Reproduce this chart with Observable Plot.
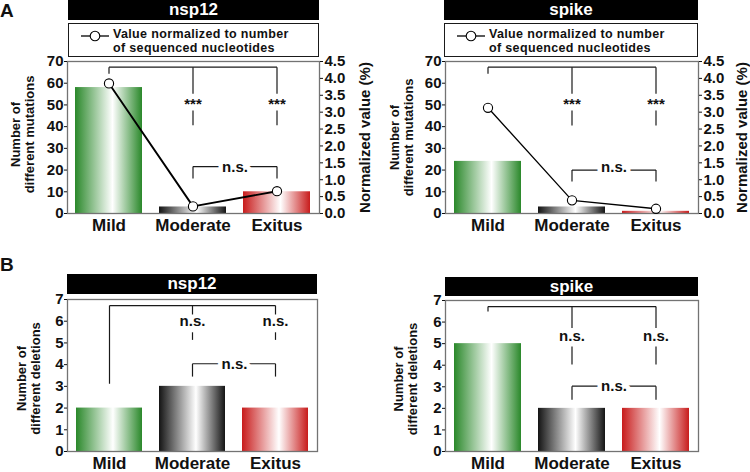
<!DOCTYPE html>
<html>
<head>
<meta charset="utf-8">
<script src="https://cdn.jsdelivr.net/npm/d3@7"></script>
<script src="https://cdn.jsdelivr.net/npm/@observablehq/plot@0.6"></script>
<style>
  body { margin: 0; background: #fff; font-family: "Liberation Sans", Arial, sans-serif; }
  #fig { position: relative; width: 750px; height: 472px; overflow: hidden; background: #fff; }
  .abs { position: absolute; }
  .hdr { background: #000; color: #fff; font-weight: bold; font-size: 17px; text-align: center; }
  .leg { border: 1px solid #1a1a1a; box-sizing: border-box; background: #fff; font-weight: bold; font-size: 12.5px; line-height: 14px; letter-spacing: 0.35px; color: #111; }
  .leg .txt { position: absolute; left: 44px; white-space: nowrap; height: 14px; }
  .leg svg { position: absolute; left: 11px; top: 5px; }
  .plab { font-weight: bold; font-size: 19px; line-height: 22px; color: #111; }
</style>
</head>
<body>
<div id="fig"></div>
<script>
// ---------- data ----------
const categories = ["Mild", "Moderate", "Exitus"];
const mutationsNsp12 = [58, 3, 10];
const mutationsSpike = [24, 3, 1];
const normalizedNsp12 = [3.85, 0.21, 0.66];
const normalizedSpike = [3.13, 0.39, 0.14];
const deletionsNsp12 = [2, 3, 2];
const deletionsSpike = [5, 2, 2];
const mutationTicks = [0, 10, 20, 30, 40, 50, 60, 70];
const normalizedTicks = [0, 0.5, 1, 1.5, 2, 2.5, 3, 3.5, 4, 4.5];
const deletionTicks = [0, 1, 2, 3, 4, 5, 6, 7];
const genes = ["nsp12", "spike"];
const legendLines = ["Value normalized to number", "of sequenced nucleotides"];
const titleMutations = "Number of\ndifferent mutations";
const titleDeletions = "Number of\ndifferent deletions";
const titleNormalized = "Normalized value (%)";
// significance brackets: [from, to, yStart, yEnd]
const bracketsMutNsp12 = [["Mild","Exitus",67.4,67.4],["Mild","Mild",67.4,64.4],["Moderate","Moderate",67.4,55.2],["Moderate","Moderate",47.4,40.6],["Exitus","Exitus",67.4,55.2],["Exitus","Exitus",47.4,40.6],["Moderate","Exitus",21.6,21.6],["Moderate","Moderate",21.6,16.1],["Exitus","Exitus",21.6,16.1]];
const bracketsMutSpike = [["Mild","Exitus",67.4,67.4],["Mild","Mild",67.4,64.4],["Moderate","Moderate",67.4,55.1],["Moderate","Moderate",47.4,40.5],["Exitus","Exitus",67.4,55.1],["Exitus","Exitus",47.4,40.5],["Moderate","Exitus",20.0,20.0],["Moderate","Moderate",20.0,14.7],["Exitus","Exitus",20.0,14.7]];
const bracketsDelNsp12 = [["Mild","Exitus",6.72,6.72],["Mild","Mild",6.72,3.12],["Moderate","Moderate",6.72,6.31],["Moderate","Moderate",5.49,5.14],["Exitus","Exitus",6.72,6.31],["Exitus","Exitus",5.49,5.14],["Moderate","Exitus",4.04,4.04],["Moderate","Moderate",4.04,3.45],["Exitus","Exitus",4.04,3.45]];
const bracketsDelSpike = [["Mild","Exitus",6.72,6.72],["Mild","Mild",6.72,6.49],["Moderate","Moderate",6.72,5.73],["Moderate","Moderate",4.87,4.03],["Exitus","Exitus",6.72,5.73],["Exitus","Exitus",4.87,4.03],["Moderate","Exitus",3.03,3.03],["Moderate","Moderate",3.03,2.40],["Exitus","Exitus",3.03,2.40]];
// significance labels: [category, y, text]
const labelsMutNsp12 = [["Moderate",50.2,"***"],["Exitus",50.2,"***"]];
const labelsMutSpike = [["Moderate",50.2,"***"],["Exitus",50.2,"***"]];
const labelsDelNsp12 = [["Moderate",5.99,"n.s."],["Exitus",5.99,"n.s."]];
const labelsDelSpike = [["Moderate",5.33,"n.s."],["Exitus",5.33,"n.s."]];
// label between Moderate and Exitus
const midMutNsp12 = ["Moderate",21.4,"n.s."];
const midMutSpike = ["Moderate",21.3,"n.s."];
const midDelNsp12 = ["Moderate",4.04,"n.s."];
const midDelSpike = ["Moderate",3.03,"n.s."];

// ---------- drawing ----------
const barEdges = ["#2a882a", "#141414", "#c81c1c"];
const fig = document.getElementById("fig");

function el(cls, css, html, parent) {
  const d = document.createElement("div");
  d.className = cls;
  Object.assign(d.style, css);
  if (html != null) d.innerHTML = html;
  (parent || fig).appendChild(d);
  return d;
}

function makePanel(cfg) {
  const rows = categories.map((c, i) => ({cat: c, v: cfg.values[i], n: cfg.norm ? cfg.norm[i] : null}));
  const yMax = cfg.yTicks[cfg.yTicks.length - 1];
  const k = yMax / normalizedTicks[normalizedTicks.length - 1];
  const font = {fontSize: 15, fontWeight: "bold"};
  const marks = [
    ...categories.map((c, i) => Plot.barY(rows.filter(d => d.cat === c), {x: "cat", y: "v", fill: `url(#${cfg.id}-${i})`})),
    Plot.frame({stroke: "#737373", strokeWidth: 1.3}),
    Plot.axisY({ticks: cfg.yTicks, tickFormat: d => String(d), tickSize: 3, tickPadding: 1, label: null, ...font}),
    Plot.axisX({tickSize: 0, tickPadding: 5, label: null, fontSize: 17, fontWeight: "bold"}),
    Plot.link(cfg.brackets, {x1: d => d[0], x2: d => d[1], y1: d => d[2], y2: d => d[3], stroke: "#1a1a1a", strokeWidth: 1.2}),
    Plot.text(cfg.labels, {x: d => d[0], y: d => d[1], text: d => d[2], fontSize: 15, fontWeight: "bold", fill: "#111"}),
    Plot.text([cfg.mid], {x: d => d[0], y: d => d[1], text: d => d[2], dx: 42, fontSize: 15, fontWeight: "bold", fill: "#111", stroke: "white", strokeWidth: 9}),
    Plot.text([cfg.yTitle], {frameAnchor: "left", textAnchor: "middle", rotate: -90, dx: cfg.titleDx, dy: cfg.titleDy, text: d => d, fontSize: 13, fontWeight: "bold", lineHeight: 1.1, fill: "#111"})
  ];
  if (cfg.norm) {
    marks.push(
      Plot.line(rows, {x: "cat", y: d => d.n * k, stroke: "#000", strokeWidth: cfg.lineWidth}),
      Plot.dot(rows, {x: "cat", y: d => d.n * k, r: 4.6, fill: "white", stroke: "#000", strokeWidth: 1.1}),
      Plot.axisY({anchor: "right", ticks: normalizedTicks.map(t => t * k), tickFormat: d => (d / k).toFixed(1), tickSize: 3, tickPadding: 2, label: null, ...font}),
      Plot.text([titleNormalized], {frameAnchor: "right", textAnchor: "middle", rotate: -90, dx: cfg.rightDx, text: d => d, fontSize: 15, fontWeight: "bold", fill: "#111"})
    );
  }
  const out = Plot.plot({
    width: cfg.width, height: cfg.height,
    marginTop: cfg.m[0], marginRight: cfg.m[1], marginBottom: cfg.m[2], marginLeft: cfg.m[3],
    x: {type: "band", domain: categories, paddingInner: 0.2, paddingOuter: 0.1},
    y: {domain: [0, yMax], nice: false},
    style: {fontFamily: "'Liberation Sans', Arial, sans-serif", color: "#111", background: "transparent", overflow: "visible"},
    marks
  });
  const svg = out.tagName.toLowerCase() === "svg" ? out : out.querySelector("svg");
  const defs = d3.select(svg).insert("defs", ":first-child");
  barEdges.forEach((col, i) => {
    const g = defs.append("linearGradient").attr("id", `${cfg.id}-${i}`).attr("x1", "0").attr("x2", "1").attr("y1", "0").attr("y2", "0");
    g.append("stop").attr("offset", "0").attr("stop-color", col);
    g.append("stop").attr("offset", "0.56").attr("stop-color", "#ffffff");
    g.append("stop").attr("offset", "1").attr("stop-color", col);
  });
  out.style.position = "absolute";
  out.style.left = cfg.left + "px";
  out.style.top = cfg.top + "px";
  fig.appendChild(out);
}

makePanel({id: "a1", left: 0, top: 0, width: 375, height: 240, m: [61, 56, 27, 67],
  values: mutationsNsp12, norm: normalizedNsp12, yTicks: mutationTicks, brackets: bracketsMutNsp12,
  labels: labelsMutNsp12, mid: midMutNsp12, yTitle: titleMutations, titleDx: -45, titleDy: -3, rightDx: 46, lineWidth: 1.9});
makePanel({id: "a2", left: 375, top: 0, width: 375, height: 240, m: [61, 52, 27, 70],
  values: mutationsSpike, norm: normalizedSpike, yTicks: mutationTicks, brackets: bracketsMutSpike,
  labels: labelsMutSpike, mid: midMutSpike, yTitle: titleMutations, titleDx: -44, titleDy: 0, rightDx: 44, lineWidth: 1.3});
makePanel({id: "b1", left: 0, top: 240, width: 375, height: 232, m: [59, 58, 21, 67],
  values: deletionsNsp12, norm: null, yTicks: deletionTicks, brackets: bracketsDelNsp12,
  labels: labelsDelNsp12, mid: midDelNsp12, yTitle: titleDeletions, titleDx: -39, titleDy: 3});
makePanel({id: "b2", left: 375, top: 240, width: 375, height: 232, m: [60, 52, 21, 70],
  values: deletionsSpike, norm: null, yTicks: deletionTicks, brackets: bracketsDelSpike,
  labels: labelsDelSpike, mid: midDelSpike, yTitle: titleDeletions, titleDx: -40, titleDy: 3});

// headers
const headers = [
  {t: genes[0], l: 68, top: 0, w: 251, h: 20},
  {t: genes[1], l: 444, top: 0, w: 254, h: 20},
  {t: genes[0], l: 67, top: 274, w: 250, h: 20},
  {t: genes[1], l: 445, top: 277, w: 253, h: 19}
];
headers.forEach(h => el("abs hdr", {left: h.l + "px", top: h.top + "px", width: h.w + "px", height: h.h + "px", lineHeight: h.h + "px"}, h.t));

// legends
const glyph = '<svg width="30" height="14"><line x1="1" y1="7" x2="29" y2="7" stroke="#000" stroke-width="1.3"/><circle cx="15" cy="7" r="4.8" fill="#fff" stroke="#000" stroke-width="1.1"/></svg>';
[{l: 68, w: 251}, {l: 444, w: 254}].forEach(g => {
  const box = el("abs leg", {left: g.l + "px", top: "23px", width: g.w + "px", height: "34px"}, glyph);
  legendLines.forEach((line, j) => el("txt", {top: (3 + j * 14) + "px"}, line, box));
});

// panel letters
el("abs plab", {left: "0px", top: "0px"}, "A");
el("abs plab", {left: "0px", top: "254px"}, "B");
</script>
</body>
</html>
